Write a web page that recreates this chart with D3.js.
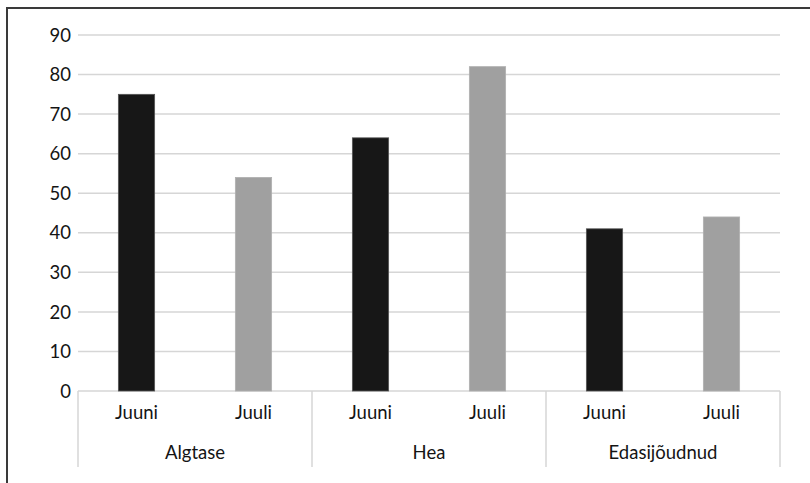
<!DOCTYPE html>
<html>
<head>
<meta charset="utf-8">
<script src="https://cdn.jsdelivr.net/npm/d3@7/dist/d3.min.js"></script>
<style>
  html, body { margin: 0; padding: 0; background: #fff; }
  svg { display: block; }
  text { font-family: Lato, "Open Sans", sans-serif; fill: #141414; }
</style>
</head>
<body>
<svg id="chart" width="810" height="483"></svg>
<script>
// Tasemed ja mõõtmiskuud
const categories = ["Algtase", "Hea", "Edasijõudnud"];
const months = ["Juuni", "Juuli"];
const juuniValues = [75, 64, 41];
const juuliValues = [54, 82, 44];
const yTicks = [0, 10, 20, 30, 40, 50, 60, 70, 80, 90];
const monthColors = ["#171717", "#a0a0a0"];

const svg = d3.select("#chart");
const W = 810, H = 483;
const plot = { left: 78, right: 780, top: 35, bottom: 391 };
const axisBottom = 467;
const fontSize = 18.5;

// Outer frame (only its left and top edges fall inside the view)
svg.append("path")
  .attr("d", `M7,${H + 5} L7,8 L${W + 5},8`)
  .attr("fill", "none")
  .attr("stroke", "#3a3a3a")
  .attr("stroke-width", 2);

const y = d3.scaleLinear().domain([0, 90]).range([plot.bottom, plot.top]);
const x0 = d3.scaleBand().domain(categories).range([plot.left, plot.right]).padding(0);
const x1 = d3.scaleBand().domain(months).range([0, x0.bandwidth()]).paddingInner(0.69).paddingOuter(0.345);

// Horizontal gridlines
svg.append("g")
  .selectAll("line")
  .data(yTicks)
  .join("line")
  .attr("x1", plot.left)
  .attr("x2", plot.right)
  .attr("y1", d => y(d))
  .attr("y2", d => y(d))
  .attr("stroke", "#d6d6d6")
  .attr("stroke-width", 1.5);

// Y axis labels
svg.append("g")
  .selectAll("text")
  .data(yTicks)
  .join("text")
  .attr("x", 71)
  .attr("y", d => y(d))
  .attr("dy", "0.36em")
  .attr("text-anchor", "end")
  .attr("font-size", fontSize)
  .text(d => d);

// Bars
const rows = categories.map((c, i) => ({ category: c, values: [juuniValues[i], juuliValues[i]] }));
const groups = svg.append("g")
  .selectAll("g")
  .data(rows)
  .join("g")
  .attr("transform", d => `translate(${x0(d.category)},0)`);

groups.selectAll("rect")
  .data(d => d.values.map((v, j) => ({ month: months[j], value: v, j })))
  .join("rect")
  .attr("x", d => x1(d.month))
  .attr("width", x1.bandwidth())
  .attr("y", d => y(d.value))
  .attr("height", d => y(0) - y(d.value))
  .attr("fill", d => monthColors[d.j])
  .attr("stroke", d => d.j === 0 ? "#555" : "#b0b0b0")
  .attr("stroke-width", 0.8);

// Month labels
groups.selectAll("text.month")
  .data(months)
  .join("text")
  .attr("class", "month")
  .attr("x", m => x1(m) + x1.bandwidth() / 2)
  .attr("y", 418.5)
  .attr("text-anchor", "middle")
  .attr("font-size", fontSize)
  .text(m => m);

// Category labels
groups.append("text")
  .attr("x", x0.bandwidth() / 2)
  .attr("y", 458.5)
  .attr("text-anchor", "middle")
  .attr("font-size", fontSize)
  .text(d => d.category);

// Category separators on the axis
const seps = categories.map(c => x0(c)).concat([plot.right]);
svg.append("g")
  .selectAll("line")
  .data(seps)
  .join("line")
  .attr("x1", d => d)
  .attr("x2", d => d)
  .attr("y1", plot.bottom)
  .attr("y2", axisBottom)
  .attr("stroke", "#d6d6d6")
  .attr("stroke-width", 1.5);
</script>
</body>
</html>
